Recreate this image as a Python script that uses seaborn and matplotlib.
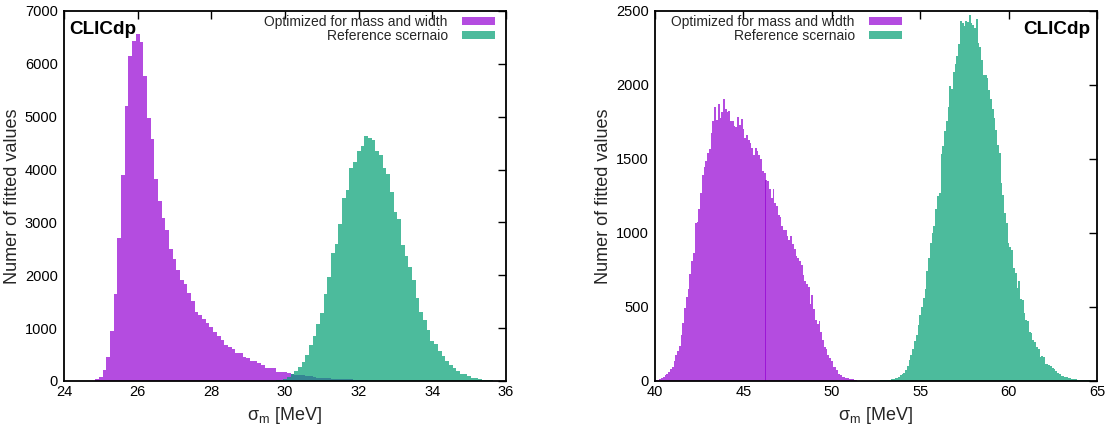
import numpy as np
import pandas as pd
import matplotlib
matplotlib.use("Agg")
import matplotlib.pyplot as plt
from matplotlib.patches import Patch
from matplotlib.colors import to_rgba
import seaborn as sns

# Histogram bin width in MeV; each series lists counts per bin from its first bin centre
BIN = 0.1

# Left panel
opt_left_start = 24.9
opt_left = [30, 70, 215, 455, 946, 1646, 2706, 3898, 5203, 6156,
            6427, 6566, 6408, 5771, 4976, 4585, 3816, 3406, 3078, 2857,
            2491, 2308, 2100, 1911, 1829, 1659, 1514, 1312, 1249, 1173,
            1100, 1022, 927, 851, 776, 681, 643, 605, 530, 530,
            448, 435, 378, 378, 341, 303, 246, 246, 246, 170,
            170, 170, 151, 126, 120, 113, 107, 100, 95, 70,
            65, 60, 57, 55, 45, 40, 38, 35, 32, 30,
            25, 20, 18, 10, 5]
ref_left_start = 29.7
ref_left = [5, 12, 22, 45, 85, 126, 189, 265, 366, 492,
            681, 851, 1078, 1287, 1646, 1968, 2416, 2592, 2971, 3463,
            3614, 4030, 4144, 4352, 4453, 4636, 4591, 4554, 4352, 4276,
            4030, 3917, 3576, 3198, 3065, 2573, 2365, 2157, 1911, 1570,
            1306, 1154, 965, 757, 700, 568, 473, 378, 303, 246,
            189, 132, 132, 95, 57, 57, 32, 19, 13, 25, 5]

# Right panel
opt_right_start = 40.1
opt_right = [7, 10, 16, 22, 30, 38, 50, 62, 80, 95,
             133, 178, 205, 236, 308, 394, 495, 565, 619, 720,
             808, 862, 1070, 1074, 1160, 1268, 1389, 1448, 1486, 1543,
             1565, 1678, 1757, 1853, 1763, 1874, 1779, 1817, 1907, 1840,
             1817, 1824, 1754, 1754, 1723, 1718, 1786, 1727, 1768, 1700,
             1640, 1660, 1628, 1610, 1576, 1529, 1574, 1554, 1525, 1502,
             1417, 1407, 1358, 1350, 1295, 1239, 1295, 1200, 1182, 1119,
             1108, 1047, 1018, 1020, 980, 953, 980, 928, 890, 845,
             833, 808, 781, 718, 676, 653, 637, 518, 579, 489,
             410, 383, 403, 333, 275, 230, 214, 178, 155, 135,
             95, 95, 72, 50, 41, 29, 25, 20, 20, 16,
             14, 11, 8, 5]
ref_right_start = 52.8
ref_right = [4, 5, 6, 7, 8, 9, 11, 13, 18, 23,
             30, 38, 45, 56, 74, 101, 142, 176, 214, 272,
             311, 378, 444, 500, 560, 620, 741, 829, 930, 1000,
             1047, 1160, 1250, 1272, 1534, 1588, 1691, 1760, 1853, 1993,
             1975, 2088, 2142, 2196, 2277, 2430, 2416, 2398, 2430, 2428,
             2473, 2421, 2405, 2383, 2443, 2281, 2259, 2169, 2067, 2067,
             2050, 1966, 1903, 1840, 1775, 1696, 1594, 1538, 1335, 1257,
             1133, 1065, 930, 908, 885, 766, 727, 626, 678, 552,
             547, 462, 412, 408, 331, 322, 277, 266, 232, 214,
             164, 169, 164, 115, 115, 110, 101, 86, 79, 70,
             52, 45, 34, 34, 29, 29, 23, 18, 15, 13,
             12, 10, 9, 8, 7, 6, 5, 4, 4, 3, 2]

labels = ["Optimized for mass and width", "Reference scernaio"]
colors = ["#9400d3", "#009e73"]
FILL_ALPHA = 0.7

sns.set_theme(style="white")
plt.rcParams["font.family"] = ["Liberation Sans", "DejaVu Sans"]


def to_frame(start, counts):
    centres = start + BIN * np.arange(len(counts))
    return pd.DataFrame({"sigma": centres, "n": counts})


def draw_panel(ax, series, xlim, xticks, ylim, yticks, legend_x, tag_x, tag_ha):
    for (start, counts), label, color in zip(series, labels, colors):
        df = to_frame(start, counts)
        lo = start - BIN / 2
        hi = lo + BIN * len(counts)
        sns.histplot(data=df, x="sigma", weights="n", binwidth=BIN,
                     binrange=(lo, hi), ax=ax, color=color, alpha=FILL_ALPHA,
                     edgecolor="none", linewidth=0)
    ax.set_xlim(*xlim)
    ax.set_ylim(*ylim)
    ax.set_xticks(xticks)
    ax.set_yticks(yticks)
    ax.set_xlabel("σ$_\\mathregular{m}$ [MeV]", fontsize=13, labelpad=4)
    ax.set_ylabel("Numer of fitted values", fontsize=13, labelpad=3)
    ax.tick_params(axis="both", direction="in", length=6, width=1,
                   top=True, right=True, labelsize=10.5, colors="black")
    ax.tick_params(axis="x", pad=3)
    ax.tick_params(axis="y", pad=4.5)
    for sp in ax.spines.values():
        sp.set_visible(True)
        sp.set_color("black")
        sp.set_linewidth(1.3)
    ax.grid(False)

    handles = [Patch(facecolor=to_rgba(c, FILL_ALPHA), edgecolor="none", label=l)
               for c, l in zip(colors, labels)]
    ax.legend(handles=handles, loc="upper right", bbox_to_anchor=(legend_x, 0.99),
              markerfirst=False, frameon=False, fontsize=10, handlelength=2.4,
              handleheight=0.5, handletextpad=1.0, labelspacing=0.0,
              borderpad=0, borderaxespad=0)
    ax.text(tag_x, 0.972, "CLICdp", transform=ax.transAxes, ha=tag_ha, va="top",
            fontsize=13.6, fontweight="bold", color="black")


W, H = 1111, 433
fig = plt.figure(figsize=(W / 100, H / 100), dpi=100)
ax1 = fig.add_axes([64 / W, 1 - 381 / H, 442 / W, 370 / H])
ax2 = fig.add_axes([655 / W, 1 - 381 / H, 442 / W, 370 / H])

draw_panel(ax1, [(opt_left_start, opt_left), (ref_left_start, ref_left)],
           (24, 36), np.arange(24, 37, 2), (0, 7000), np.arange(0, 7001, 1000),
           legend_x=0.975, tag_x=0.011, tag_ha="left")
draw_panel(ax2, [(opt_right_start, opt_right), (ref_right_start, ref_right)],
           (40, 65), np.arange(40, 66, 5), (0, 2500), np.arange(0, 2501, 500),
           legend_x=0.559, tag_x=0.984, tag_ha="right")

fig.savefig("out.png", dpi=100, facecolor="white")
